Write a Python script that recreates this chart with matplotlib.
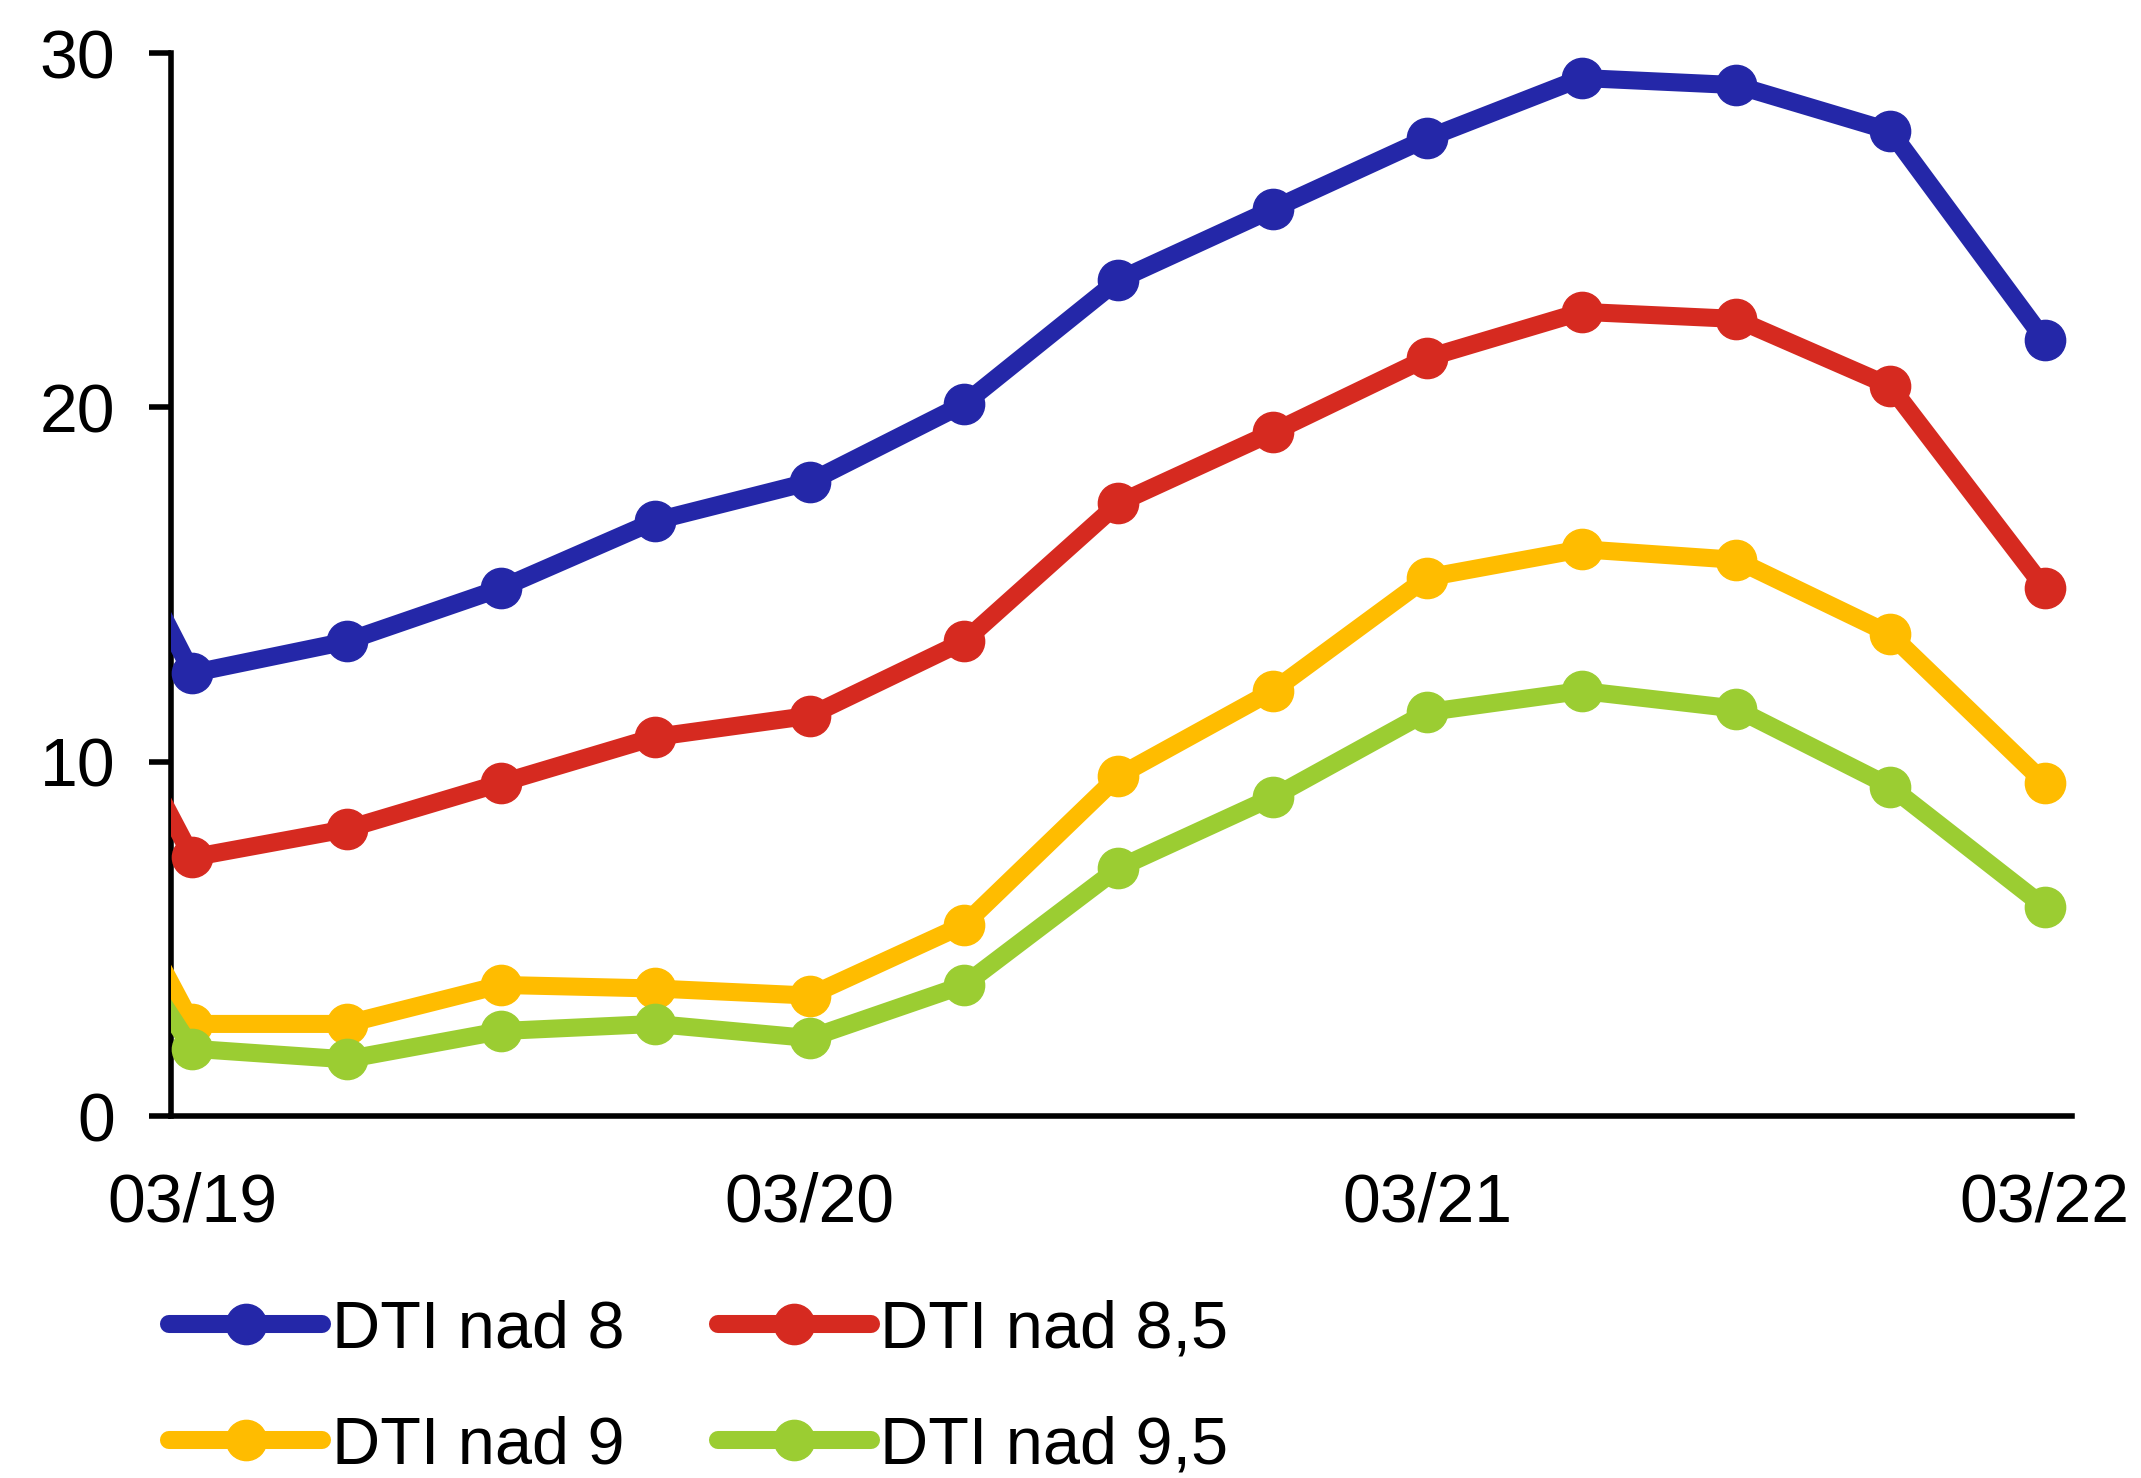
import matplotlib
matplotlib.use("Agg")
import matplotlib.pyplot as plt

plt.rcParams["font.family"] = ["Liberation Sans", "DejaVu Sans"]

# quarterly positions, first entry is the 12/18 value just left of the axis
quarters = [-1, 0, 1, 2, 3, 4, 5, 6, 7, 8, 9, 10, 11, 12]
tick_pos = [0, 4, 8, 12]
tick_labels = ["03/19", "03/20", "03/21", "03/22"]

dti_8 = [21.0, 12.5, 13.4, 14.9, 16.8, 17.9, 20.1, 23.6, 25.6, 27.6, 29.3, 29.1, 27.8, 21.9]
dti_85 = [15.6, 7.3, 8.1, 9.4, 10.7, 11.3, 13.4, 17.3, 19.3, 21.4, 22.7, 22.5, 20.6, 14.9]
dti_9 = [10.8, 2.6, 2.6, 3.7, 3.6, 3.4, 5.4, 9.6, 12.0, 15.2, 16.0, 15.7, 13.6, 9.4]
dti_95 = [8.6, 1.9, 1.6, 2.4, 2.6, 2.2, 3.7, 7.0, 9.0, 11.4, 12.0, 11.5, 9.3, 5.9]

series = [
    (dti_8, "#2427a8", "DTI nad 8"),
    (dti_85, "#d62a20", "DTI nad 8,5"),
    (dti_9, "#ffbc00", "DTI nad 9"),
    (dti_95, "#9bcd32", "DTI nad 9,5"),
]

fig = plt.figure(figsize=(21.41, 14.78), dpi=100)
ax = fig.add_axes([0.0797, 0.2449, 0.8883, 0.7191])

lines = []
for values, color, label in series:
    (ln,) = ax.plot(
        quarters,
        values,
        color=color,
        linewidth=13,
        marker="o",
        markersize=29,
        solid_capstyle="round",
        label=label,
    )
    lines.append(ln)

ax.set_xlim(-0.14, 12.18)
ax.set_ylim(0, 30)
ax.set_yticks([0, 10, 20, 30])
ax.set_xticks(tick_pos)
ax.set_xticklabels(tick_labels)

for side in ["top", "right"]:
    ax.spines[side].set_visible(False)
for side in ["left", "bottom"]:
    ax.spines[side].set_linewidth(4)
    ax.spines[side].set_zorder(1)

ax.tick_params(axis="y", direction="out", length=16, width=4, pad=24, labelsize=49)
ax.tick_params(axis="x", length=0, pad=40, labelsize=49)

# two rows: 8 / 8,5 on top, 9 / 9,5 below
order = [0, 2, 1, 3]
ax.legend(
    [lines[i] for i in order],
    [series[i][2] for i in order],
    loc="upper left",
    bbox_to_anchor=(0.079, 0.1206),
    bbox_transform=fig.transFigure,
    ncols=2,
    frameon=False,
    fontsize=48,
    handlelength=2.3,
    handletextpad=0.14,
    columnspacing=1.4,
    labelspacing=0.8,
    borderaxespad=0,
    borderpad=0,
)

plt.savefig("out.png", dpi=100)
plt.close()
